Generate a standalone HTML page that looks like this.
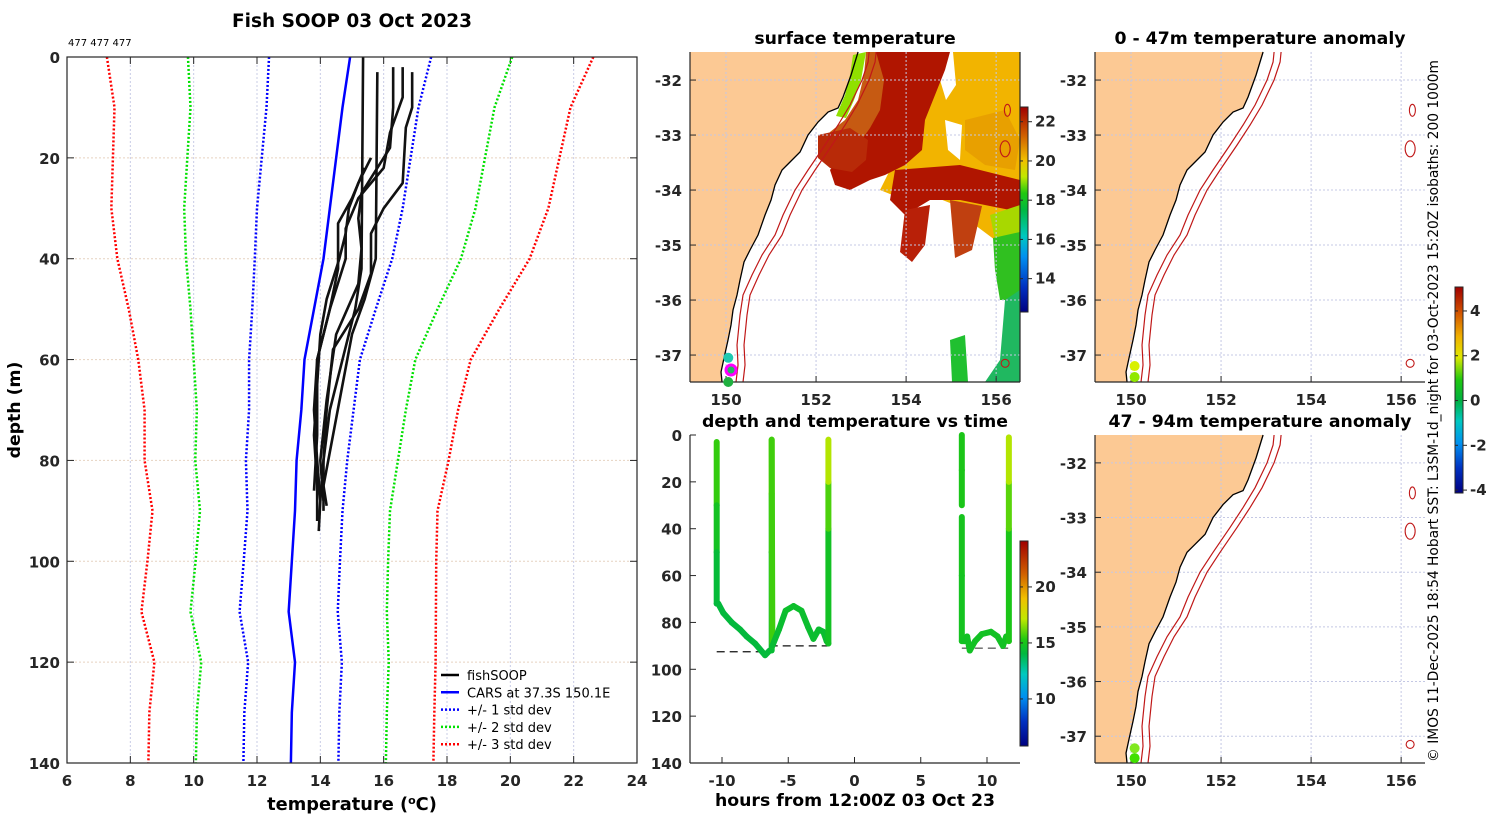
<!DOCTYPE html>
<html><head><meta charset="utf-8"><style>
html,body{margin:0;padding:0;background:#fff}
svg{display:block;font-family:"DejaVu Sans","Liberation Sans",sans-serif}
.t{font-weight:bold;font-size:17.3px;fill:#000}
.tk{font-weight:bold;font-size:15px;fill:#262626}
.lg{font-size:13px;fill:#000}
</style></head><body>
<svg id="root" width="1500" height="820" viewBox="0 0 1500 820" xmlns="http://www.w3.org/2000/svg">
<defs>
<linearGradient id="sstcb" x1="0" y1="1" x2="0" y2="0">
<stop offset="0" stop-color="#000080"/><stop offset="0.12" stop-color="#0030c0"/><stop offset="0.27" stop-color="#0090f0"/><stop offset="0.37" stop-color="#00c8c0"/><stop offset="0.5" stop-color="#00b840"/><stop offset="0.58" stop-color="#20c810"/><stop offset="0.66" stop-color="#c0e800"/><stop offset="0.74" stop-color="#f0c000"/><stop offset="0.86" stop-color="#d06000"/><stop offset="1" stop-color="#a00000"/></linearGradient>
<linearGradient id="tcb" x1="0" y1="1" x2="0" y2="0">
<stop offset="0" stop-color="#000080"/><stop offset="0.12" stop-color="#0030c0"/><stop offset="0.24" stop-color="#0090f0"/><stop offset="0.35" stop-color="#00c8c0"/><stop offset="0.45" stop-color="#00b840"/><stop offset="0.52" stop-color="#20c810"/><stop offset="0.62" stop-color="#c0e800"/><stop offset="0.72" stop-color="#f0c000"/><stop offset="0.84" stop-color="#d06000"/><stop offset="1" stop-color="#a00000"/></linearGradient>
<linearGradient id="acb" x1="0" y1="1" x2="0" y2="0">
<stop offset="0" stop-color="#000080"/><stop offset="0.12" stop-color="#0030c0"/><stop offset="0.24" stop-color="#0090f0"/><stop offset="0.35" stop-color="#00c8c0"/><stop offset="0.45" stop-color="#00b040"/><stop offset="0.55" stop-color="#20c810"/><stop offset="0.66" stop-color="#e0e800"/><stop offset="0.76" stop-color="#f0b000"/><stop offset="0.88" stop-color="#d05000"/><stop offset="1" stop-color="#a00000"/></linearGradient>
</defs>
<g id="main"></g>
<g id="sst"></g>
<g id="tvt"></g>
<g id="an1"></g>
<g id="an2"></g>
<text x="352" y="27" text-anchor="middle" class="t" style="font-size:18.5px">Fish SOOP 03 Oct 2023</text>
<text x="68" y="46" font-size="10">477 477 477</text>
<text x="352" y="810" text-anchor="middle" class="t" style="font-size:17.8px">temperature (<tspan font-size="11" dy="-6">o</tspan><tspan dy="6">C)</tspan></text>
<text transform="translate(20,410) rotate(-90)" text-anchor="middle" class="t">depth (m)</text>
<text x="855" y="44" text-anchor="middle" class="t">surface temperature</text>
<text x="1260" y="44" text-anchor="middle" class="t">0 - 47m temperature anomaly</text>
<text x="855" y="427" text-anchor="middle" class="t">depth and temperature vs time</text>
<text x="1260" y="427" text-anchor="middle" class="t">47 - 94m temperature anomaly</text>
<text x="855" y="806" text-anchor="middle" class="t">hours from 12:00Z 03 Oct 23</text>
<text transform="translate(1438,411) rotate(-90)" text-anchor="middle" font-size="13.8">© IMOS 11-Dec-2025 18:54 Hobart SST: L3SM-1d_night for 03-Oct-2023 15:20Z isobaths: 200  1000m</text>
</svg>
<script>
// ---------- main profile chart data ----------
const depthsStd=[0,10,20,30,40,50,60,70,80,90,100,110,120,130,140];
const carsMean=[14.94,14.7,14.5,14.3,14.1,13.8,13.5,13.4,13.25,13.2,13.1,13.0,13.2,13.1,13.07];
const carsStd=[2.56,2.4,2.35,2.3,2.17,1.95,1.75,1.65,1.6,1.5,1.52,1.55,1.48,1.5,1.5];
const fishDepths=[
[0,42,50,60,70,80,88,94],
[3,40,48,55,65,75,85,89],
[2,10,18,23,27,32,38,45,55,68,80,88],
[2,8,15,22,28,34,40,50,60,75,86],
[3,10,14,25,30,35,43,50,58,70,80,90],
[20,25,30,35,40,48,55,65,75,85,92],
[22,28,33,42,50,60,70,80,88]];
const fishTemps=[
[15.35,15.3,15.1,14.7,14.3,14.1,14.0,13.95],
[15.8,15.75,15.4,15.0,14.7,14.4,14.1,14.2],
[16.3,16.3,16.2,15.7,15.3,15.2,15.3,15.2,14.5,14.2,14.0,14.1],
[16.6,16.6,16.2,16.0,15.2,14.8,14.8,14.3,13.9,13.9,13.8],
[16.9,16.9,16.7,16.6,16.0,15.6,15.6,15.2,14.4,14.2,14.1,14.1],
[15.6,15.2,14.9,14.8,14.6,14.2,14.0,13.9,13.8,13.9,13.9],
[15.4,15.0,14.56,14.56,14.3,13.9,13.8,13.9,14.0]];
const xTicks=[6,8,10,12,14,16,18,20,22,24];
const yTicks=[0,20,40,60,80,100,120,140];
// ---------- depth/time chart data ----------
const trackHours=[
[-10.4,-10.4,-10.4,-10.4,-10.28,-9.9,-9.27,-8.64,-8.14,-7.5,-6.75,-6.4],
[-6.25,-6.25,-6.25,-6.25,-6.2,-5.7,-5.2,-4.6,-4.0,-3.5,-3.1,-2.7,-2.35,-2.1,-1.97,-1.97,-1.97,-1.97],
[8.1,8.1,8.1],
[8.1,8.1,8.1,8.3,8.5,8.7,9.1,9.6,10.3,10.8,11.2,11.45,11.65,11.65,11.65,11.65]];
const trackDepths=[
[3,30,50,72,72,76,80,83,86,89,94,92],
[92,50,25,2,90,83,75,73,75,82,87,83,84,88,89,40,20,2],
[0,15,30],
[35,60,88,88,86,92,88,85,84,86,90,86,88,40,20,1]];
const trackTemps=[
[15.6,15.2,14.3,14.1,14.1,14.1,14.1,14.1,14.1,14.1,14.1,14.2],
[14.2,14.4,15.6,16.8,14.3,14.3,14.5,14.5,14.5,14.4,14.4,14.4,14.4,14.4,14.4,15.0,16.4,17.3],
[15.0,15.0,15.0],
[14.9,14.8,14.8,14.7,14.7,14.7,14.7,14.7,14.7,14.7,14.7,14.7,14.8,15.2,16.5,17.2]];
const bottomHours=[[-10.4,-6.4],[-6.4,-2],[8.1,11.6]];
const bottomDepths=[92.5,90,91];
const hourTicks=[-10,-5,0,5,10];
// ---------- map data ----------
const latTicks=[-32,-33,-34,-35,-36,-37];
const lonTicks=[150,152,154,156];

const NS="http://www.w3.org/2000/svg";
function el(parent,tag,attrs){const e=document.createElementNS(NS,tag);for(const k in attrs)e.setAttribute(k,attrs[k]);parent.appendChild(e);return e;}
function txt(parent,x,y,s,cls,anchor){const e=el(parent,'text',{x:x,y:y,'class':cls,'text-anchor':anchor||'middle'});e.textContent=s;return e;}

const cmT=[[5.8,[0,0,128]],[8,[0,48,192]],[10.2,[0,144,240]],[12.2,[0,200,192]],[14,[0,184,64]],[15.2,[32,200,16]],[17,[192,232,0]],[19,[240,192,0]],[21.3,[208,96,0]],[24.1,[160,0,0]]];
function tcol(v){for(let i=1;i<cmT.length;i++){if(v<=cmT[i][0]){const a=cmT[i-1],b=cmT[i];const f=Math.max(0,(v-a[0])/(b[0]-a[0]));return 'rgb('+a[1].map((c,j)=>Math.round(c+(b[1][j]-c)*f)).join(',')+')';}}return 'rgb(160,0,0)';}

// ---------- MAIN ----------
(function(){
const g=document.getElementById('main');
const X0=67,X1=637,Y0=57,Y1=763;
const fx=t=>X0+(t-6)/18*(X1-X0), fy=d=>Y0+d/140*(Y1-Y0);
xTicks.forEach(t=>{
 const l=el(g,'line',{x1:fx(t),x2:fx(t),y1:Y0,y2:Y1,stroke:'#c8cce6','stroke-width':1,'stroke-dasharray':'2,2'});
 
 
 el(g,'line',{x1:fx(t),x2:fx(t),y1:Y1,y2:Y1-7,stroke:'#262626'});
 el(g,'line',{x1:fx(t),x2:fx(t),y1:Y0,y2:Y0+7,stroke:'#262626'});
 const tt=txt(g,fx(t),Y1+23,String(t),'tk');
 
 
});
yTicks.forEach(d=>{
 const l=el(g,'line',{x1:X0,x2:X1,y1:fy(d),y2:fy(d),stroke:'#e6d2c0','stroke-width':1,'stroke-dasharray':'2,2'});
 
 
 el(g,'line',{x1:X0,x2:X0+7,y1:fy(d),y2:fy(d),stroke:'#262626'});
 el(g,'line',{x1:X1,x2:X1-7,y1:fy(d),y2:fy(d),stroke:'#262626'});
 const tt=txt(g,X0-7,fy(d)+6,String(d),'tk','end');
 
 
});
const stdCols=['#0000ff','#00e000','#ff0000'];
[1,2,3].forEach(k=>{
 [-1,1].forEach(s=>{
  const pts=depthsStd.map((d,i)=>fx(carsMean[i]+s*k*carsStd[i])+','+fy(d)).join(' ');
  const p=el(g,'polyline',{points:pts,fill:'none',stroke:stdCols[k-1],'stroke-width':2.5,'stroke-dasharray':'2,2'});
  
  
 });
});
const m=el(g,'polyline',{points:depthsStd.map((d,i)=>fx(carsMean[i])+','+fy(d)).join(' '),fill:'none',stroke:'#0000ff','stroke-width':2.5});


fishDepths.forEach((ds,j)=>{
 const p=el(g,'polyline',{points:ds.map((d,i)=>fx(fishTemps[j][i])+','+fy(d)).join(' '),fill:'none',stroke:'#111','stroke-width':2.6,'stroke-linejoin':'round'});
 
 
});
el(g,'rect',{x:X0,y:Y0,width:X1-X0,height:Y1-Y0,fill:'none',stroke:'#262626','stroke-width':1.2});
const lg=el(g,'g',{});


const items=[['fishSOOP','#000',''],['CARS at 37.3S 150.1E','#0000ff',''],['+/- 1 std dev','#0000ff','2,2'],['+/- 2 std dev','#00e000','2,2'],['+/- 3 std dev','#ff0000','2,2']];
items.forEach((it,i)=>{
 const y=675+i*17.3;
 const e=el(lg,'g',{});
 
 
 el(e,'line',{x1:441,x2:459,y1:y,y2:y,stroke:it[1],'stroke-width':2.5,'stroke-dasharray':it[2]||'none'});
 txt(e,467,y+5,it[0],'lg','start');
});
})();

// ---------- MAP helpers ----------
const coastPx=[[858,52],[851,75],[843,97],[838,108],[828,112],[818,122],[808,135],[800,152],[790,162],[782,170],[775,185],[771,200],[765,215],[758,235],[750,250],[744,262],[740,280],[737,295],[733,310],[731,325],[728,340],[724,358],[721,372],[722,382]];
const isoPx=[[867,52],[866,62],[860,80],[850,105],[838,125],[825,145],[808,170],[795,190],[783,215],[775,235],[762,255],[752,275],[743,295],[740,315],[737,345],[738,365],[736,382]];
function toLL(p){return [149.2+(p[0]-690)/45,-31.49-(p[1]-52)/55];}
const coastLL=coastPx.map(toLL), isoLL=isoPx.map(toLL);
function drawMap(g,x0,y0,w,h,opts){
 const fx=lon=>x0+(lon-149.2)/7.33*w, fy=lat=>y0+(-31.49-lat)/6*h;
 const land=[[x0,y0]].concat(coastLL.map(p=>[fx(p[0]),fy(p[1])])).concat([[x0,y0+h]]);
 const L=el(g,'polygon',{points:land.map(p=>p.join(',')).join(' '),fill:'#fcc994'});
 
 
 if(opts.sst)opts.sst(g);
 latTicks.forEach(la=>{
  el(g,'line',{x1:x0,x2:x0+w,y1:fy(la),y2:fy(la),stroke:'#c4c8e4','stroke-dasharray':'2,2'});
  el(g,'line',{x1:x0,x2:x0+6,y1:fy(la),y2:fy(la),stroke:'#262626'});
  const t=txt(g,x0-8,fy(la)+6,String(la),'tk','end');
  
  
 });
 lonTicks.forEach(lo=>{
  el(g,'line',{x1:fx(lo),x2:fx(lo),y1:y0,y2:y0+h,stroke:'#c4c8e4','stroke-dasharray':'2,2'});
  el(g,'line',{x1:fx(lo),x2:fx(lo),y1:y0+h,y2:y0+h-6,stroke:'#262626'});
  const t=txt(g,fx(lo),y0+h+23,String(lo),'tk');
  
  
 });
 const c=el(g,'polyline',{points:coastLL.map(p=>fx(p[0])+','+fy(p[1])).join(' '),fill:'none',stroke:'#000','stroke-width':1.3});
 
 
 [0,7].forEach(dx=>{
  const i=el(g,'polyline',{points:isoLL.map((p,k)=>(fx(p[0])+(k<3?dx+2:dx))+','+fy(p[1])).join(' '),fill:'none',stroke:'#c01818','stroke-width':1.2});
  
  
 });
 [[156.25,-32.55,3,6],[156.2,-33.25,5,8],[156.2,-37.15,4,4]].forEach(s=>{
  el(g,'ellipse',{cx:fx(s[0]),cy:fy(s[1]),rx:s[2],ry:s[3],fill:'none',stroke:'#c01818','stroke-width':1.1});
 });
 el(g,'line',{x1:x0,x2:x0+w,y1:y0+h,y2:y0+h,stroke:'#262626','stroke-width':1.2});
 el(g,'line',{x1:x0,x2:x0,y1:y0,y2:y0+h,stroke:'#262626','stroke-width':1.2});
 if(opts.right)el(g,'line',{x1:x0+w,x2:x0+w,y1:y0,y2:y0+h,stroke:'#262626','stroke-width':1.2});
 if(opts.dots)opts.dots.forEach(d=>{const c=el(g,'circle',{cx:fx(d[0]),cy:fy(d[1]),r:5,fill:d[2]});});
 return {fx,fy};
}
function colorbar(g,x,y,w,h,grad,ticks,vmax,vmin){
 const r=el(g,'rect',{x:x,y:y,width:w,height:h,fill:'url(#'+grad+')',stroke:'#262626','stroke-width':1});
 
 
 ticks.forEach(t=>{const yy=y+(vmax-t)/(vmax-vmin)*h;el(g,'line',{x1:x+w,x2:x+w+4,y1:yy,y2:yy,stroke:'#262626'});el(g,'line',{x1:x,x2:x+3,y1:yy,y2:yy,stroke:'#262626'});
 const tt=txt(g,x+w+7,yy+5,String(t),'tk','start');tt.setAttribute('font-size','13');});
}

// ---------- SST map ----------
(function(){
const g=document.getElementById('sst');
drawMap(g,690,52,330,330,{right:true,sst:function(g){
 const polys=[
  ['#f2b400','925,52 1020,52 1020,235 995,240 975,225 955,205 930,195 905,200 880,190 890,170 920,150 925,110'],
  ['#e8a000','965,120 1005,110 1020,140 1015,170 985,165 965,150'],
  ['#ffffff','940,52 953,52 956,85 946,100 940,80'],
  ['#ffffff','945,120 962,125 960,160 948,150'],
  ['#b01500','873,52 950,52 945,70 935,95 925,120 922,150 905,165 885,175 870,180 860,185 850,190 835,185 830,170 840,155 855,150 865,130 870,110 880,90 878,70'],
  ['#c65a12','866,52 876,52 884,80 880,110 870,128 860,142 845,148 832,150 822,148 830,132 845,120 858,100 864,75'],
  ['#b82a08','818,135 850,128 868,140 866,160 852,172 830,168 818,158'],
  ['#b01500','895,170 960,165 1000,175 1020,180 1020,212 990,206 960,200 930,200 905,215 890,200'],
  ['#b82008','905,210 930,205 925,245 912,262 900,252'],
  ['#c04010','950,200 982,206 972,250 955,258'],
  ['#a8d800','990,215 1020,205 1020,235 995,240'],
  ['#30c020','993,238 1020,232 1020,300 1000,300 995,270'],
  ['#20b860','1005,300 1020,290 1020,382 985,382 1000,360'],
  ['#20c030','950,340 965,335 968,382 952,382'],
  ['#90e000','853,55 866,52 861,80 854,100 846,118 836,116 845,95 850,75']];
 polys.forEach(p=>{const e=el(g,'polygon',{points:p[1],fill:p[0]});});
},dots:[[150.05,-37.05,'#20c8b0'],[150.05,-37.49,'#20b040']]});
const ring=el(g,'circle',{cx:731,cy:370,r:5,fill:'#20b860',stroke:'#ff00ff','stroke-width':3});


colorbar(g,1020,107,8,205,'sstcb',[22,20,18,16,14],22.75,12.3);
})();

// ---------- depth/time chart ----------
(function(){
const g=document.getElementById('tvt');
const X0=690,X1=1020,Y0=435,Y1=763;
const fx=h=>722+(h+10)*13.25, fy=d=>Y0+d/140*(Y1-Y0);
hourTicks.forEach(h=>{el(g,'line',{x1:fx(h),x2:fx(h),y1:Y1,y2:Y1-6,stroke:'#262626'});const t=txt(g,fx(h),Y1+23,String(h),'tk');});
yTicks.forEach(d=>{el(g,'line',{x1:X0,x2:X0+6,y1:fy(d),y2:fy(d),stroke:'#262626'});const t=txt(g,X0-8,fy(d)+6,String(d),'tk','end');});
bottomHours.forEach((hs,i)=>{const l=el(g,'line',{x1:fx(hs[0]),x2:fx(hs[1]),y1:fy(bottomDepths[i]),y2:fy(bottomDepths[i]),stroke:i==2?'#666':'#111','stroke-width':1.3,'stroke-dasharray':'8,5'});});
trackHours.forEach((hs,j)=>{
 const gg=el(g,'g',{});
 
 
 for(let i=1;i<hs.length;i++){
  const t=(trackTemps[j][i-1]+trackTemps[j][i])/2;
  el(gg,'line',{x1:fx(hs[i-1]),y1:fy(trackDepths[j][i-1]),x2:fx(hs[i]),y2:fy(trackDepths[j][i]),stroke:tcol(t),'stroke-width':6,'stroke-linecap':'round'});
 }
});
el(g,'line',{x1:X0,x2:X1,y1:Y1,y2:Y1,stroke:'#262626','stroke-width':1.2});
el(g,'line',{x1:X0,x2:X0,y1:Y0,y2:Y1,stroke:'#262626','stroke-width':1.2});
colorbar(g,1020,541,8,205,'tcb',[20,15,10],24.1,5.8);
})();

// ---------- anomaly maps ----------
drawMap(document.getElementById('an1'),1095,52,330,330,{dots:[[150.08,-37.2,'#d8f000'],[150.08,-37.4,'#90e800']]});
drawMap(document.getElementById('an2'),1095,435,330,328,{dots:[[150.08,-37.22,'#80e820'],[150.08,-37.4,'#40e000']]});
colorbar(document.getElementById('an1'),1455,287,8,206,'acb',[4,2,0,-2,-4],5.07,-4.13);
</script>
</body></html>
